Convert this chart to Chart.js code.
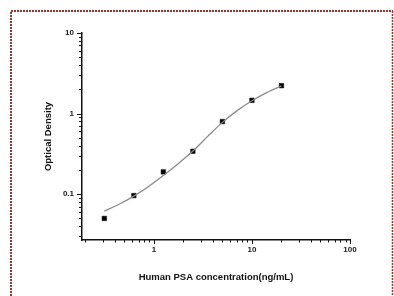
<!DOCTYPE html>
<html>
<head>
<meta charset="utf-8">
<script src="https://cdn.jsdelivr.net/npm/chart.js@4/dist/chart.umd.min.js"></script>
<style>
  body { margin: 0; background: #fff; }
  #wrap { position: relative; width: 394px; height: 296px; }
</style>
</head>
<body>
<div id="wrap"><canvas id="myChart"></canvas></div>
<script>
// Standard points (concentration ng/mL vs OD)
const concentrations = [0.3125, 0.625, 1.25, 2.5, 5, 10, 20];
const odValues = [0.05, 0.096, 0.189, 0.341, 0.796, 1.46, 2.22];

// Fitted curve
const curveX = [0.3125, 0.442, 0.625, 0.884, 1.25, 1.768, 2.5, 3.536, 5, 7.07, 10, 14.14, 20];
const curveY = [0.0615, 0.075, 0.0947, 0.1246, 0.1708, 0.239, 0.343, 0.521, 0.778, 1.088, 1.442, 1.82, 2.205];

// Tick labels
const xMajorTicks = [1, 10, 100];
const yMajorTicks = [0.1, 1, 10];

// minor ticks 2..9 per decade
function decadeTicks(decades, lo, hi) {
  let out = [];
  decades.forEach(d => {
    for (let m = 1; m < 10; m++) {
      let v = +(d * m).toPrecision(3);
      if (v >= lo && v <= hi) out.push(v);
    }
  });
  return out;
}

const borderPlugin = {
  id: "dottedBorder",
  afterDraw(chart) {
    const c = chart.ctx;
    c.save();
    c.strokeStyle = "#8b3a32";
    c.setLineDash([2, 1]);
    c.lineWidth = 2;
    c.beginPath();
    c.moveTo(11, 296);
    c.lineTo(11, 11);
    c.lineTo(393, 11);
    c.stroke();
    c.lineWidth = 1.5;
    c.beginPath();
    c.moveTo(392.5, 11);
    c.lineTo(392.5, 296);
    c.stroke();
    c.restore();
  }
};

// draw major / minor tick marks outside the axes
const tickPlugin = {
  id: "logTicks",
  afterDraw(chart) {
    const c = chart.ctx;
    c.save();
    c.strokeStyle = "#111";
    c.lineWidth = 1;
    const xs = chart.scales.x, ys = chart.scales.y;
    xs.ticks.forEach(t => {
      const px = Math.round(xs.getPixelForValue(t.value)) + 0.5;
      const len = xMajorTicks.includes(t.value) ? 4 : 2.5;
      c.beginPath();
      c.moveTo(px, xs.top);
      c.lineTo(px, xs.top + len);
      c.stroke();
    });
    ys.ticks.forEach(t => {
      const py = Math.round(ys.getPixelForValue(t.value)) + 0.5;
      const len = yMajorTicks.includes(t.value) ? 5 : 3;
      c.beginPath();
      c.moveTo(ys.right, py);
      c.lineTo(ys.right - len, py);
      c.stroke();
    });
    c.restore();
  }
};

const font = { family: "'Liberation Sans', Arial, sans-serif", weight: "bold" };

const ctx = document.getElementById("myChart").getContext("2d");
const myChart = new Chart(ctx, {
  type: "scatter",
  data: {
    datasets: [{
      label: "curve",
      data: curveX.map((x, i) => ({ x: x, y: curveY[i] })),
      showLine: true,
      borderColor: "#8a8a8a",
      borderWidth: 1.3,
      pointRadius: 0,
      cubicInterpolationMode: "monotone"
    }, {
      label: "standards",
      data: concentrations.map((x, i) => ({ x: x, y: odValues[i] })),
      pointStyle: "rect",
      pointRadius: 3.2,
      backgroundColor: "#000",
      borderColor: "#000",
      borderWidth: 0.5
    }]
  },
  options: {
    responsive: true,
    maintainAspectRatio: false,
    animation: false,
    layout: { padding: { top: 33, right: 44, left: 0, bottom: 0 } },
    plugins: { legend: { display: false }, tooltip: { enabled: false } },
    scales: {
      x: {
        type: "logarithmic",
        min: 0.185,
        max: 100,
        afterBuildTicks: s => { s.ticks = decadeTicks([0.1, 1, 10, 100], 0.2, 100).map(v => ({ value: v })); },
        afterFit: s => { s.height = 56; },
        grid: { drawOnChartArea: false, tickLength: 4, tickColor: "transparent" },
        border: { color: "#111", width: 1.5 },
        ticks: {
          autoSkip: false, maxRotation: 0, padding: 1, color: "#1a1a1a",
          font: { ...font, size: 8 },
          callback: v => xMajorTicks.includes(v) ? String(v) : ""
        },
        title: {
          display: true, text: "Human PSA concentration(ng/mL)", color: "#111",
          font: { ...font, size: 9.5 }, padding: { top: 0, bottom: 13.3 }
        }
      },
      y: {
        type: "logarithmic",
        min: 0.027,
        max: 10,
        afterBuildTicks: s => { s.ticks = decadeTicks([0.01, 0.1, 1, 10], 0.03, 10).map(v => ({ value: v })); },
        afterFit: s => { s.width = 82; },
        grid: { drawOnChartArea: false, tickLength: 5, tickColor: "transparent" },
        border: { color: "#111", width: 1.5 },
        ticks: {
          autoSkip: false, padding: 3, color: "#1a1a1a",
          font: { ...font, size: 8 },
          callback: v => yMajorTicks.includes(v) ? String(v) : ""
        },
        title: {
          display: true, text: "Optical Density", color: "#111",
          font: { ...font, size: 9.5 }, padding: { top: 42.3, bottom: 0 }
        }
      }
    }
  },
  plugins: [tickPlugin, borderPlugin]
});
</script>
</body>
</html>
